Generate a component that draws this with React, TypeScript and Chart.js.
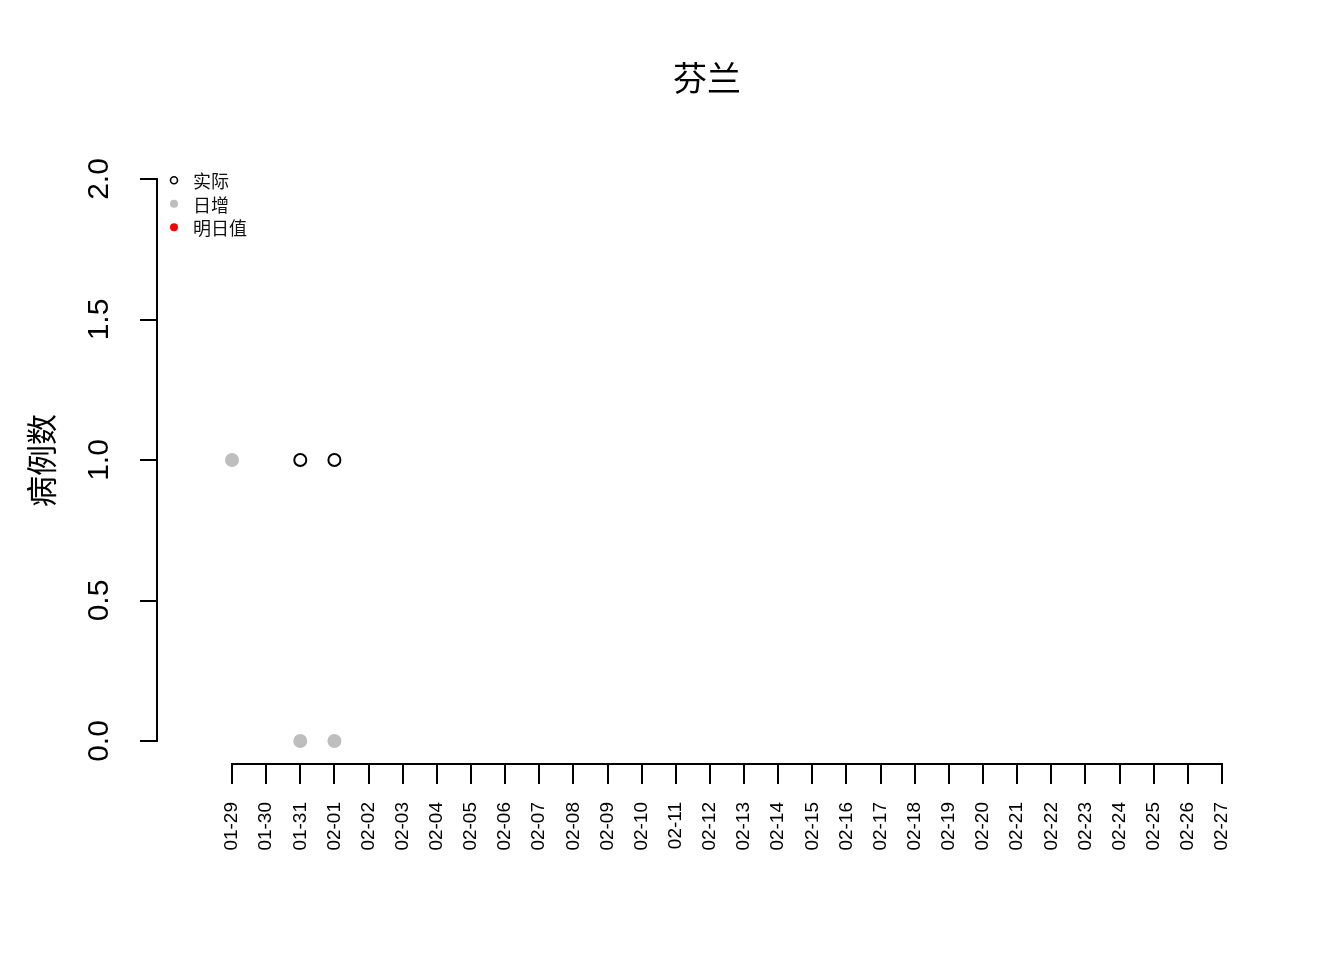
import React, { useEffect, useRef } from "react";
import { Chart, registerables } from "chart.js";

Chart.register(...registerables);

const titleText = "芬兰";
const yAxisTitle = "病例数";
const dates = [
  "01-29", "01-30", "01-31", "02-01", "02-02", "02-03", "02-04", "02-05", "02-06", "02-07",
  "02-08", "02-09", "02-10", "02-11", "02-12", "02-13", "02-14", "02-15", "02-16", "02-17",
  "02-18", "02-19", "02-20", "02-21", "02-22", "02-23", "02-24", "02-25", "02-26", "02-27",
];
const yTicks = [0, 0.5, 1, 1.5, 2];
const actual: (number | null)[] = [null, null, 1, 1];
const daily: (number | null)[] = [1, null, 0, 0];
const tomorrow: (number | null)[] = [];
const seriesNames = ["实际", "日增", "明日值"];

const toPoints = (arr: (number | null)[]) =>
  arr
    .map((v, i) => (v === null ? null : { x: i, y: v }))
    .filter((p) => p !== null) as { x: number; y: number }[];

const TICK_FONT = "'Liberation Sans', Arial, sans-serif";
const CJK_FONT = "'Noto Sans CJK SC', 'Noto Sans', sans-serif";

const axisLinesPlugin = {
  id: "axisLines",
  afterDraw(chart: any) {
    const { ctx } = chart;
    const xs = chart.scales.x;
    const ys = chart.scales.y;
    ctx.save();
    ctx.strokeStyle = "#000";
    ctx.lineWidth = 2;
    ctx.lineCap = "square";
    ctx.beginPath();
    const yLine = Math.round(xs.top);
    ctx.moveTo(xs.getPixelForValue(0), yLine);
    ctx.lineTo(xs.getPixelForValue(dates.length - 1), yLine);
    const xLine = Math.round(ys.right);
    ctx.moveTo(xLine, ys.getPixelForValue(yTicks[0]));
    ctx.lineTo(xLine, ys.getPixelForValue(yTicks[yTicks.length - 1]));
    ctx.stroke();
    ctx.restore();
  },
};

const legendPlugin = {
  id: "rLegend",
  afterDraw(chart: any) {
    const { ctx } = chart;
    const area = chart.chartArea;
    ctx.save();
    seriesNames.forEach((name, row) => {
      const ds = chart.data.datasets.find((d: any) => d.label === name);
      if (!ds) return;
      const cx = area.left + 17;
      const cy = area.top + 23.5 + row * 23.5;
      ctx.beginPath();
      if (ds.legendOpen) {
        ctx.arc(cx, cy, 3.5, 0, Math.PI * 2);
        ctx.lineWidth = 1.6;
        ctx.strokeStyle = ds.borderColor;
        ctx.stroke();
      } else {
        ctx.arc(cx, cy, 4, 0, Math.PI * 2);
        ctx.fillStyle = ds.backgroundColor;
        ctx.fill();
      }
      ctx.fillStyle = "#111";
      ctx.font = `18px ${CJK_FONT}`;
      ctx.textAlign = "left";
      ctx.textBaseline = "middle";
      ctx.fillText(ds.label, area.left + 36, cy + 1);
    });
    ctx.restore();
  },
};

export default function App() {
  const ref = useRef<HTMLCanvasElement | null>(null);

  useEffect(() => {
    if (!ref.current) return;
    const chart = new Chart(ref.current, {
      type: "scatter",
      data: {
        datasets: [
          {
            label: seriesNames[0],
            data: toPoints(actual),
            pointRadius: 6,
            pointBorderWidth: 2,
            borderColor: "#000000",
            backgroundColor: "rgba(0,0,0,0)",
            pointBackgroundColor: "rgba(0,0,0,0)",
            pointBorderColor: "#000000",
            order: 2,
            legendOpen: true,
          } as any,
          {
            label: seriesNames[1],
            data: toPoints(daily),
            pointRadius: 7,
            pointBorderWidth: 0,
            borderColor: "#BEBEBE",
            backgroundColor: "#BEBEBE",
            pointBackgroundColor: "#BEBEBE",
            order: 1,
          } as any,
          {
            label: seriesNames[2],
            data: toPoints(tomorrow),
            pointRadius: 7,
            pointBorderWidth: 0,
            borderColor: "#FF0000",
            backgroundColor: "#FF0000",
            pointBackgroundColor: "#FF0000",
            order: 0,
          } as any,
        ],
      },
      options: {
        animation: false,
        responsive: false,
        devicePixelRatio: 1,
        events: [],
        layout: { padding: { left: 0, right: 87, top: 0, bottom: 0 } },
        plugins: {
          legend: { display: false },
          tooltip: { enabled: false },
          title: {
            display: true,
            text: titleText,
            fullSize: false,
            color: "#000",
            font: { family: CJK_FONT, size: 34, weight: "normal" as any, lineHeight: 1.2 },
            padding: { top: 57.6, bottom: 58.4 },
          },
        },
        scales: {
          x: {
            type: "linear",
            position: "bottom",
            min: -75 / (990 / 29),
            max: 29 + 35 / (990 / 29),
            afterFit: (scale: any) => {
              scale.height = 196;
            },
            afterBuildTicks: (scale: any) => {
              scale.ticks = dates.map((_, i) => ({ value: i }));
            },
            grid: {
              display: true,
              drawOnChartArea: false,
              drawTicks: true,
              tickLength: 20,
              tickWidth: 2,
              tickColor: "#000",
              color: "#000",
              lineWidth: 2,
            },
            border: { display: false },
            ticks: {
              autoSkip: false,
              minRotation: 90,
              maxRotation: 90,
              padding: 18,
              color: "#000",
              font: { family: TICK_FONT, size: 19 },
              callback: (v: any) => dates[Math.round(Number(v))] ?? "",
            },
          },
          y: {
            type: "linear",
            position: "left",
            min: -23 / 281,
            max: 2 + 22.2 / 281,
            afterFit: (scale: any) => {
              scale.width = 157;
            },
            afterBuildTicks: (scale: any) => {
              scale.ticks = yTicks.map((v) => ({ value: v }));
            },
            grid: {
              display: true,
              drawOnChartArea: false,
              drawTicks: true,
              tickLength: 17,
              tickWidth: 2,
              tickColor: "#000",
              color: "#000",
              lineWidth: 2,
            },
            border: { display: false },
            title: {
              display: true,
              text: yAxisTitle,
              color: "#000",
              font: { family: CJK_FONT, size: 31, lineHeight: 1.2 },
              padding: { top: 23, bottom: 0 },
            },
            ticks: {
              minRotation: 90,
              maxRotation: 90,
              crossAlign: "center",
              padding: 19,
              color: "#000",
              font: { family: TICK_FONT, size: 30 },
              callback: (v: any) => Number(v).toFixed(1),
            },
          },
        },
      },
      plugins: [axisLinesPlugin, legendPlugin],
    });
    return () => chart.destroy();
  }, []);

  return (
    <div style={{ position: "absolute", left: 0, top: 0, width: 1344, height: 960, background: "#fff" }}>
      <canvas ref={ref} width={1344} height={960} style={{ width: 1344, height: 960, display: "block" }} />
    </div>
  );
}
